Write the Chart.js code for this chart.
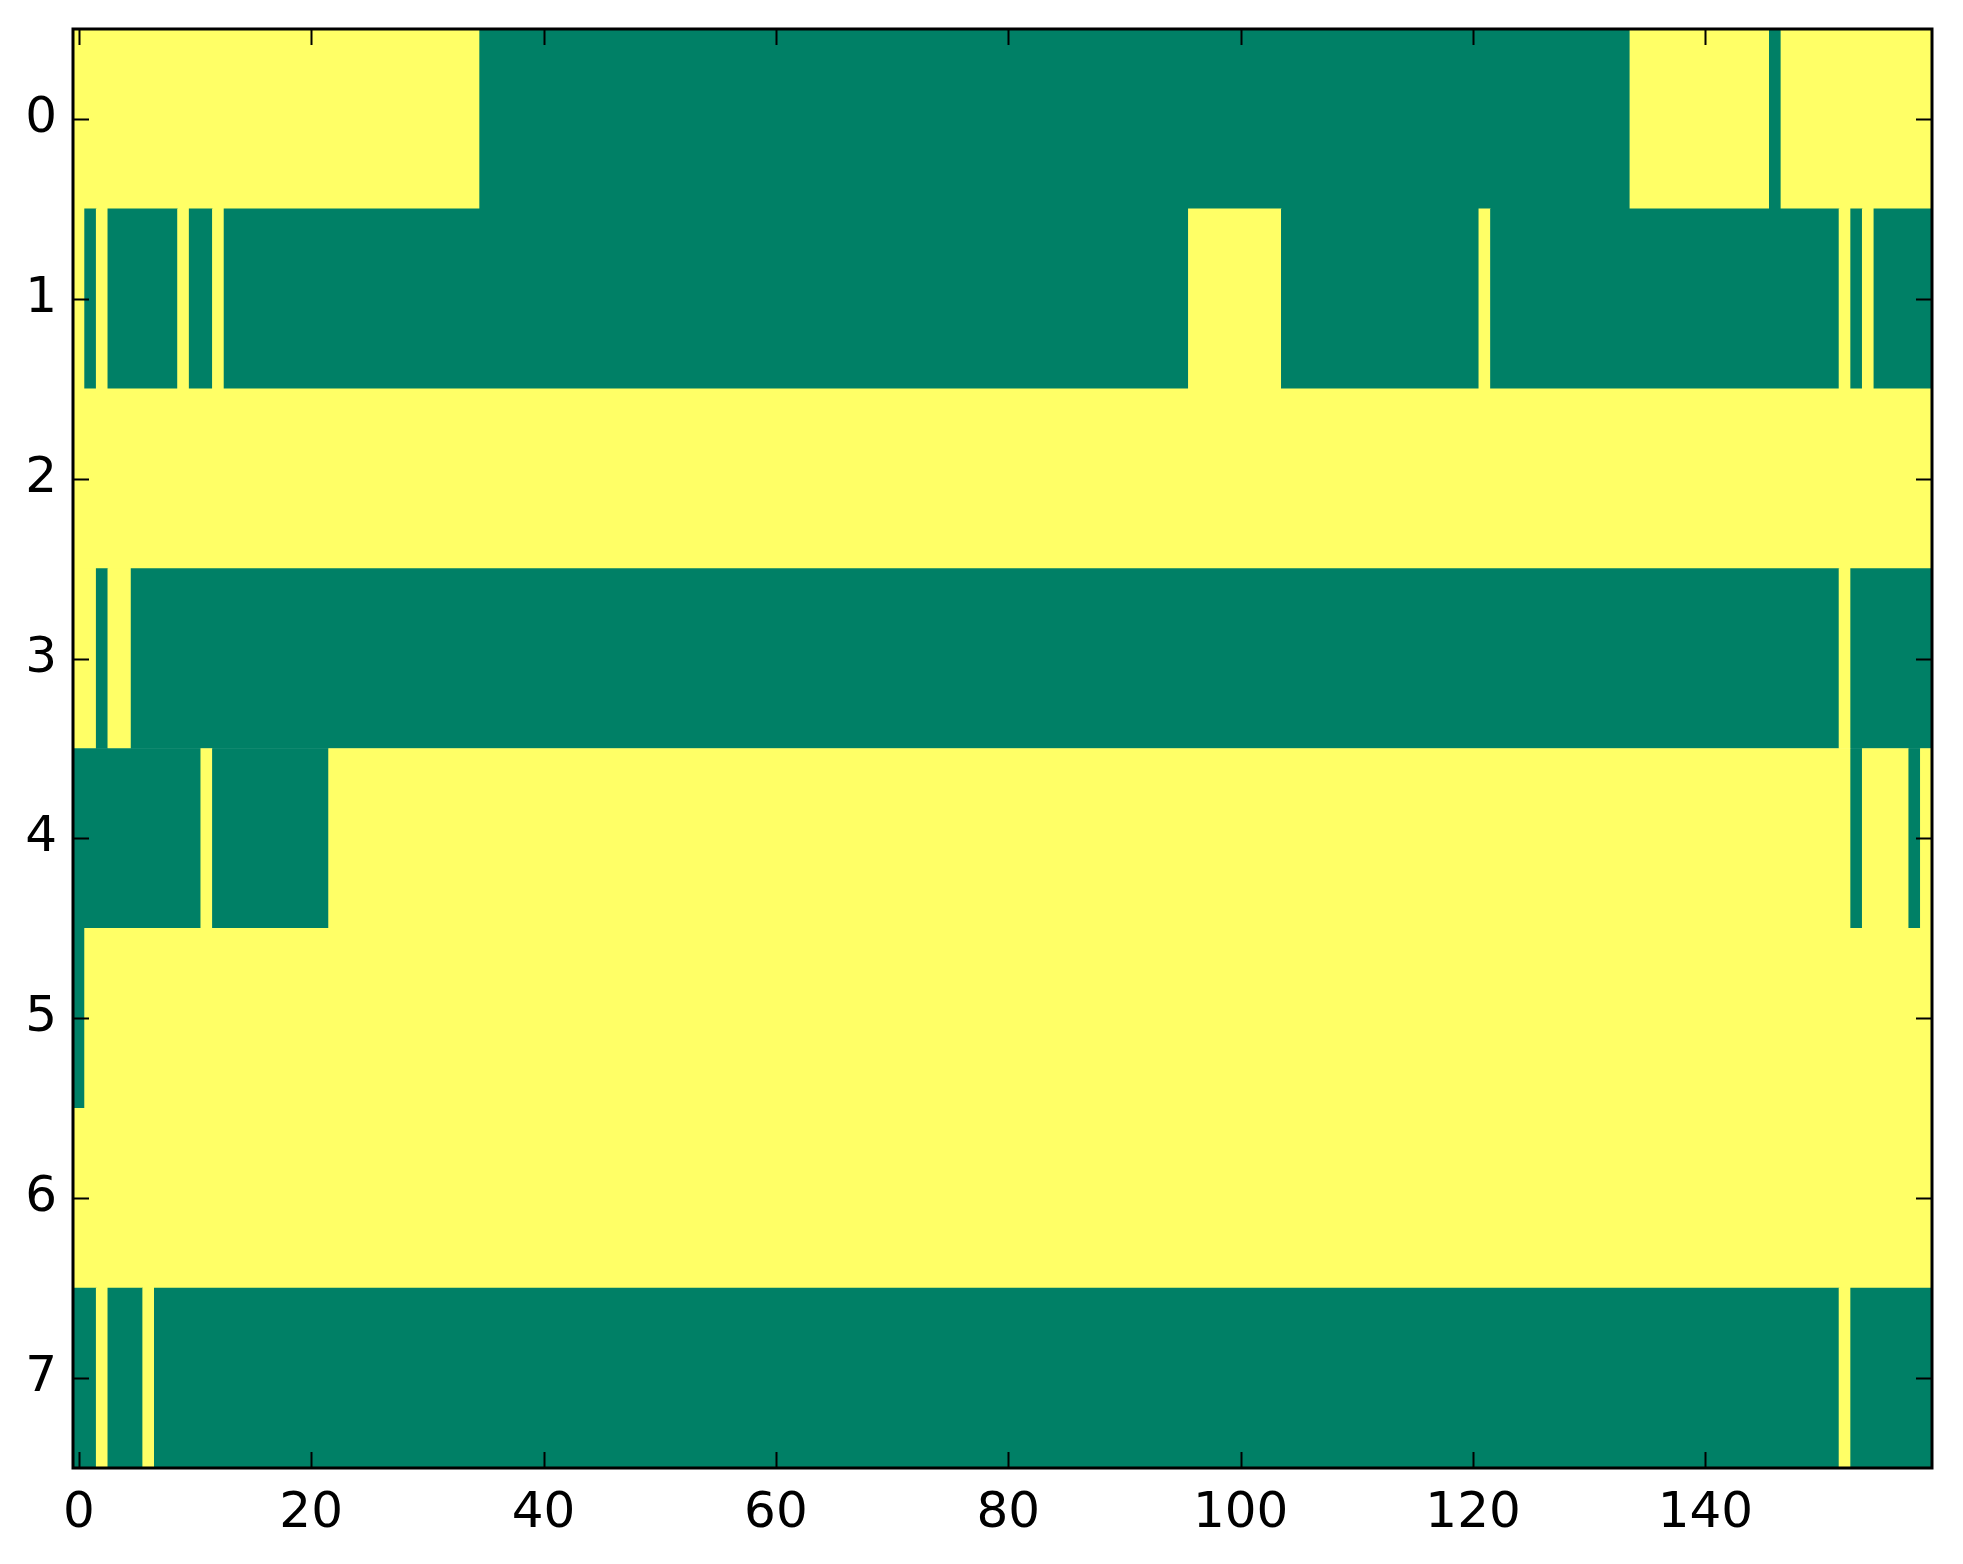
<!DOCTYPE html>
<html>
<head>
<meta charset="utf-8">
<script src="https://cdn.jsdelivr.net/npm/chart.js@4.4.1/dist/chart.umd.min.js"></script>
<style>
  html, body { margin: 0; padding: 0; background: #ffffff; }
  #wrap { width: 1963px; height: 1564px; }
</style>
</head>
<body>
<div id="wrap"><canvas id="chart" width="1963" height="1564"></canvas></div>
<script>
// 8 x 160 binary grid, 1 = yellow, 0 = green (summer colormap)
const rowLabels = ['0', '1', '2', '3', '4', '5', '6', '7'];
const xTicks = [0, 20, 40, 60, 80, 100, 120, 140];

const row0 = [
  1,1,1,1,1,1,1,1,1,1, 1,1,1,1,1,1,1,1,1,1, 1,1,1,1,1,1,1,1,1,1, 1,1,1,1,1,0,0,0,0,0,
  0,0,0,0,0,0,0,0,0,0, 0,0,0,0,0,0,0,0,0,0, 0,0,0,0,0,0,0,0,0,0, 0,0,0,0,0,0,0,0,0,0,
  0,0,0,0,0,0,0,0,0,0, 0,0,0,0,0,0,0,0,0,0, 0,0,0,0,0,0,0,0,0,0, 0,0,0,0,0,0,0,0,0,0,
  0,0,0,0,0,0,0,0,0,0, 0,0,0,0,1,1,1,1,1,1, 1,1,1,1,1,1,0,1,1,1, 1,1,1,1,1,1,1,1,1,1
];
const row1 = [
  1,0,1,0,0,0,0,0,0,1, 0,0,1,0,0,0,0,0,0,0, 0,0,0,0,0,0,0,0,0,0, 0,0,0,0,0,0,0,0,0,0,
  0,0,0,0,0,0,0,0,0,0, 0,0,0,0,0,0,0,0,0,0, 0,0,0,0,0,0,0,0,0,0, 0,0,0,0,0,0,0,0,0,0,
  0,0,0,0,0,0,0,0,0,0, 0,0,0,0,0,0,1,1,1,1, 1,1,1,1,0,0,0,0,0,0, 0,0,0,0,0,0,0,0,0,0,
  0,1,0,0,0,0,0,0,0,0, 0,0,0,0,0,0,0,0,0,0, 0,0,0,0,0,0,0,0,0,0, 0,0,1,0,1,0,0,0,0,0
];
const row2 = [
  1,1,1,1,1,1,1,1,1,1, 1,1,1,1,1,1,1,1,1,1, 1,1,1,1,1,1,1,1,1,1, 1,1,1,1,1,1,1,1,1,1,
  1,1,1,1,1,1,1,1,1,1, 1,1,1,1,1,1,1,1,1,1, 1,1,1,1,1,1,1,1,1,1, 1,1,1,1,1,1,1,1,1,1,
  1,1,1,1,1,1,1,1,1,1, 1,1,1,1,1,1,1,1,1,1, 1,1,1,1,1,1,1,1,1,1, 1,1,1,1,1,1,1,1,1,1,
  1,1,1,1,1,1,1,1,1,1, 1,1,1,1,1,1,1,1,1,1, 1,1,1,1,1,1,1,1,1,1, 1,1,1,1,1,1,1,1,1,1
];
const row3 = [
  1,1,0,1,1,0,0,0,0,0, 0,0,0,0,0,0,0,0,0,0, 0,0,0,0,0,0,0,0,0,0, 0,0,0,0,0,0,0,0,0,0,
  0,0,0,0,0,0,0,0,0,0, 0,0,0,0,0,0,0,0,0,0, 0,0,0,0,0,0,0,0,0,0, 0,0,0,0,0,0,0,0,0,0,
  0,0,0,0,0,0,0,0,0,0, 0,0,0,0,0,0,0,0,0,0, 0,0,0,0,0,0,0,0,0,0, 0,0,0,0,0,0,0,0,0,0,
  0,0,0,0,0,0,0,0,0,0, 0,0,0,0,0,0,0,0,0,0, 0,0,0,0,0,0,0,0,0,0, 0,0,1,0,0,0,0,0,0,0
];
const row4 = [
  0,0,0,0,0,0,0,0,0,0, 0,1,0,0,0,0,0,0,0,0, 0,0,1,1,1,1,1,1,1,1, 1,1,1,1,1,1,1,1,1,1,
  1,1,1,1,1,1,1,1,1,1, 1,1,1,1,1,1,1,1,1,1, 1,1,1,1,1,1,1,1,1,1, 1,1,1,1,1,1,1,1,1,1,
  1,1,1,1,1,1,1,1,1,1, 1,1,1,1,1,1,1,1,1,1, 1,1,1,1,1,1,1,1,1,1, 1,1,1,1,1,1,1,1,1,1,
  1,1,1,1,1,1,1,1,1,1, 1,1,1,1,1,1,1,1,1,1, 1,1,1,1,1,1,1,1,1,1, 1,1,1,0,1,1,1,1,0,1
];
const row5 = [
  0,1,1,1,1,1,1,1,1,1, 1,1,1,1,1,1,1,1,1,1, 1,1,1,1,1,1,1,1,1,1, 1,1,1,1,1,1,1,1,1,1,
  1,1,1,1,1,1,1,1,1,1, 1,1,1,1,1,1,1,1,1,1, 1,1,1,1,1,1,1,1,1,1, 1,1,1,1,1,1,1,1,1,1,
  1,1,1,1,1,1,1,1,1,1, 1,1,1,1,1,1,1,1,1,1, 1,1,1,1,1,1,1,1,1,1, 1,1,1,1,1,1,1,1,1,1,
  1,1,1,1,1,1,1,1,1,1, 1,1,1,1,1,1,1,1,1,1, 1,1,1,1,1,1,1,1,1,1, 1,1,1,1,1,1,1,1,1,1
];
const row6 = [
  1,1,1,1,1,1,1,1,1,1, 1,1,1,1,1,1,1,1,1,1, 1,1,1,1,1,1,1,1,1,1, 1,1,1,1,1,1,1,1,1,1,
  1,1,1,1,1,1,1,1,1,1, 1,1,1,1,1,1,1,1,1,1, 1,1,1,1,1,1,1,1,1,1, 1,1,1,1,1,1,1,1,1,1,
  1,1,1,1,1,1,1,1,1,1, 1,1,1,1,1,1,1,1,1,1, 1,1,1,1,1,1,1,1,1,1, 1,1,1,1,1,1,1,1,1,1,
  1,1,1,1,1,1,1,1,1,1, 1,1,1,1,1,1,1,1,1,1, 1,1,1,1,1,1,1,1,1,1, 1,1,1,1,1,1,1,1,1,1
];
const row7 = [
  0,0,1,0,0,0,1,0,0,0, 0,0,0,0,0,0,0,0,0,0, 0,0,0,0,0,0,0,0,0,0, 0,0,0,0,0,0,0,0,0,0,
  0,0,0,0,0,0,0,0,0,0, 0,0,0,0,0,0,0,0,0,0, 0,0,0,0,0,0,0,0,0,0, 0,0,0,0,0,0,0,0,0,0,
  0,0,0,0,0,0,0,0,0,0, 0,0,0,0,0,0,0,0,0,0, 0,0,0,0,0,0,0,0,0,0, 0,0,0,0,0,0,0,0,0,0,
  0,0,0,0,0,0,0,0,0,0, 0,0,0,0,0,0,0,0,0,0, 0,0,0,0,0,0,0,0,0,0, 0,0,1,0,0,0,0,0,0,0
];
const grid = [row0, row1, row2, row3, row4, row5, row6, row7];

const GREEN = '#008066';
const YELLOW = '#ffff66';

// merge equal neighbours into floating bars so no seams show between cells
const cells = [];
grid.forEach((row, r) => {
  let start = 0;
  for (let c = 1; c <= row.length; c++) {
    if (c === row.length || row[c] !== row[start]) {
      cells.push({ x: [start - 0.5, c - 0.5], y: rowLabels[r], v: row[start] });
      start = c;
    }
  }
});

const frame = {
  id: 'frame',
  afterDraw(chart) {
    const ctx = chart.ctx;
    const a = chart.chartArea;
    const xs = chart.scales.x, ys = chart.scales.y;
    const tl = 16;
    ctx.save();
    ctx.strokeStyle = '#000';
    ctx.lineWidth = 2;
    ctx.beginPath();
    xTicks.forEach(v => {
      const px = Math.round(xs.getPixelForValue(v)) + 0.5;
      ctx.moveTo(px, a.bottom); ctx.lineTo(px, a.bottom - tl);
      ctx.moveTo(px, a.top); ctx.lineTo(px, a.top + tl);
    });
    rowLabels.forEach((l, i) => {
      const py = Math.round(ys.getPixelForValue(i)) + 0.5;
      ctx.moveTo(a.left, py); ctx.lineTo(a.left + tl, py);
      ctx.moveTo(a.right, py); ctx.lineTo(a.right - tl, py);
    });
    ctx.stroke();
    ctx.lineWidth = 3;
    ctx.strokeRect(a.left, a.top, a.right - a.left, a.bottom - a.top);
    ctx.restore();
  }
};

new Chart(document.getElementById('chart').getContext('2d'), {
  type: 'bar',
  data: {
    labels: rowLabels,
    datasets: [{
      data: cells,
      backgroundColor: c => (c.raw && c.raw.v ? YELLOW : GREEN),
      borderWidth: 0,
      barPercentage: 1,
      categoryPercentage: 1
    }]
  },
  options: {
    indexAxis: 'y',
    responsive: false,
    animation: false,
    devicePixelRatio: 1,
    layout: { padding: { top: 29, right: 31, left: 0, bottom: 0 } },
    plugins: { legend: { display: false }, tooltip: { enabled: false } },
    scales: {
      x: {
        type: 'linear',
        min: -0.5,
        max: 159.5,
        afterBuildTicks: s => { s.ticks = xTicks.map(v => ({ value: v })); },
        afterFit: s => { s.height = 96; s.paddingLeft = 0; s.paddingRight = 0; },
        grid: { display: false, drawTicks: false },
        border: { display: false },
        ticks: { color: '#000', padding: 16, maxRotation: 0, font: { family: 'DejaVu Sans', size: 50 } }
      },
      y: {
        type: 'category',
        labels: rowLabels,
        afterFit: s => { s.width = 73; s.paddingTop = 0; s.paddingBottom = 0; },
        grid: { display: false, drawTicks: false },
        border: { display: false },
        ticks: { color: '#000', padding: 16, font: { family: 'DejaVu Sans', size: 50 } }
      }
    }
  },
  plugins: [frame]
});
</script>
</body>
</html>
